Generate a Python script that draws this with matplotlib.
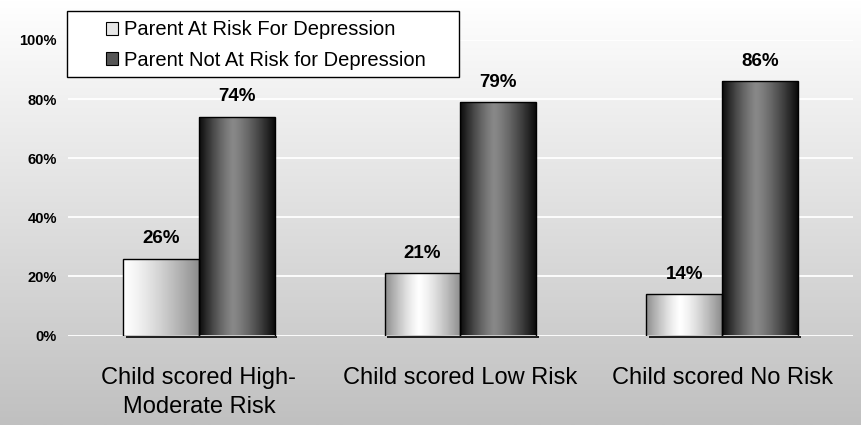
#!/usr/bin/env python3
import numpy as np
import matplotlib
matplotlib.use("Agg")
import matplotlib.pyplot as plt
from matplotlib.patches import Patch, Rectangle
from matplotlib.colors import LinearSegmentedColormap

# chart data
categories = ["Child scored High-\nModerate Risk", "Child scored Low Risk", "Child scored No Risk"]
series_names = ["Parent At Risk For Depression", "Parent Not At Risk for Depression"]
at_risk = [0.26, 0.21, 0.14]
not_at_risk = [0.74, 0.79, 0.86]
value_labels_at_risk = ["26%", "21%", "14%"]
value_labels_not_at_risk = ["74%", "79%", "86%"]
y_ticks = [0.0, 0.2, 0.4, 0.6, 0.8, 1.0]
y_tick_labels = ["0%", "20%", "40%", "60%", "80%", "100%"]

plt.rcParams['font.family'] = ['Liberation Sans', 'DejaVu Sans']

W, H = 861, 425
fig = plt.figure(figsize=(W / 100, H / 100), dpi=100)

# vertical background gradient over whole figure
bg = fig.add_axes([0, 0, 1, 1], zorder=-10)
grad = np.linspace(1.0, 0.0, 256).reshape(-1, 1)
bg_cmap = LinearSegmentedColormap.from_list("bg", ["#c0c0c0", "#ffffff"])
bg.imshow(grad, aspect='auto', cmap=bg_cmap, extent=[0, 1, 0, 1], origin='upper')
bg.set_axis_off()

ax = fig.add_axes([68 / W, (H - 335.5) / H, 785 / W, 295.6 / H])
ax.set_facecolor('none')


def cyl_gradient(edge, mid, peak, n=64):
	# horizontal shading across a bar, brightest at "peak" (0..1)
	t = np.linspace(0, 1, n)
	d = np.where(t < peak, (peak - t) / max(peak, 1e-6), (t - peak) / max(1 - peak, 1e-6))
	d = np.clip(d, 0, 1) ** 1.3
	e = np.array(matplotlib.colors.to_rgb(edge))
	m = np.array(matplotlib.colors.to_rgb(mid))
	row = m[None, :] * (1 - d[:, None]) + e[None, :] * d[:, None]
	return row[None, :, :]


x = np.arange(len(categories))
w = 0.29
light_peaks = [0.0, 0.45, 0.45]

bars_a = ax.bar(x - w / 2, at_risk, w, facecolor='none', edgecolor='black', linewidth=1.0, zorder=3)
bars_b = ax.bar(x + w / 2, not_at_risk, w, facecolor='none', edgecolor='black', linewidth=1.0, zorder=3)

for i, p in enumerate(bars_a):
	x0, y0 = p.get_x(), p.get_y()
	img = ax.imshow(cyl_gradient("#8e8e8e", "#ffffff", light_peaks[i]), aspect='auto',
	                extent=[x0, x0 + p.get_width(), y0, y0 + p.get_height()], zorder=2)
	img.set_clip_path(p)
for p in bars_b:
	x0, y0 = p.get_x(), p.get_y()
	img = ax.imshow(cyl_gradient("#0c0c0c", "#888888", 0.45), aspect='auto',
	                extent=[x0, x0 + p.get_width(), y0, y0 + p.get_height()], zorder=2)
	img.set_clip_path(p)

# thin shadow line under the bars
for p in list(bars_a) + list(bars_b):
	ax.plot([p.get_x() + 0.01, p.get_x() + p.get_width() + 0.01], [-0.004, -0.004],
	        color='black', linewidth=1.2, zorder=1, solid_capstyle='butt', clip_on=False)

for p, lab in zip(bars_a, value_labels_at_risk):
	ax.annotate(lab, (p.get_x() + p.get_width() / 2, p.get_height()), xytext=(0, 11),
	            textcoords='offset points', ha='center', va='baseline',
	            fontsize=13.5, fontweight='bold', annotation_clip=False)
for p, lab in zip(bars_b, value_labels_not_at_risk):
	ax.annotate(lab, (p.get_x() + p.get_width() / 2, p.get_height()), xytext=(0, 11),
	            textcoords='offset points', ha='center', va='baseline',
	            fontsize=13.5, fontweight='bold', annotation_clip=False)

ax.set_xlim(-0.5, len(categories) - 0.5)
ax.set_ylim(0, 1)
ax.set_yticks(y_ticks)
ax.set_yticklabels(y_tick_labels, fontsize=10.5, fontweight='bold')
ax.set_xticks(x)
ax.set_xticklabels(categories, fontsize=17, linespacing=1.4)
ax.tick_params(axis='y', length=0, pad=8)
ax.tick_params(axis='x', length=0, pad=23)
for s in ax.spines.values():
	s.set_visible(False)
ax.yaxis.grid(True, color='white', linewidth=1.3, zorder=0)
ax.set_axisbelow(True)

# legend box (drawn separately so contents can sit centred in a wide frame)
lx0, ly0, lx1, ly1 = 67, 11, 459, 77
fig.patches.append(Rectangle((lx0 / W, 1 - ly1 / H), (lx1 - lx0) / W, (ly1 - ly0) / H,
                             transform=fig.transFigure, facecolor='white',
                             edgecolor='black', linewidth=1.0, zorder=5))
handles = [Patch(facecolor='#e6e6e6', edgecolor='black', linewidth=0.8),
           Patch(facecolor='#555555', edgecolor='black', linewidth=0.8)]
leg = fig.legend(handles, series_names, loc='center',
                 bbox_to_anchor=((lx0 + lx1) / 2 / W + 0.003, 1 - (ly0 + ly1 + 2) / 2 / H),
                 frameon=False, fontsize=14.5, handlelength=0.6, handleheight=0.6,
                 handletextpad=0.3, labelspacing=0.55, borderpad=0)
leg.set_zorder(6)

plt.savefig("out.png", dpi=100)
